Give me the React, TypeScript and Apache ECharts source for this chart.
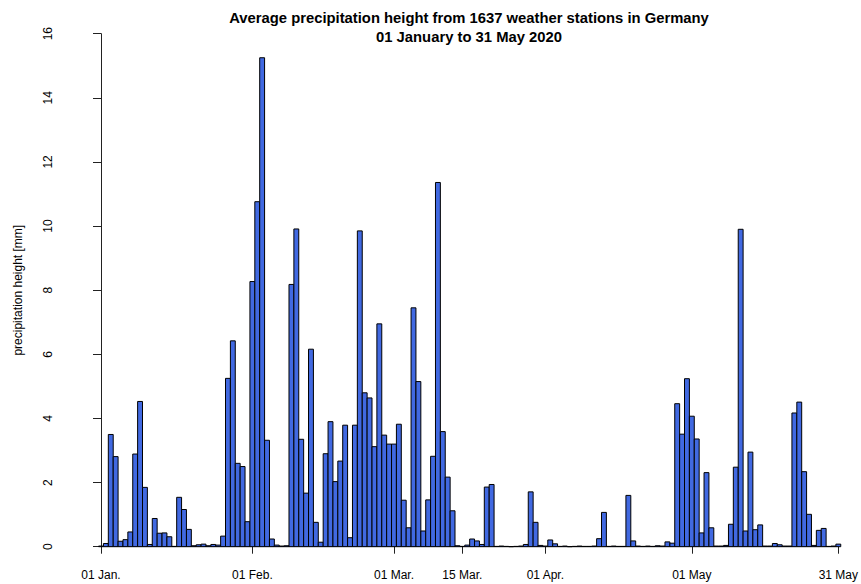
import React, { useEffect, useRef } from "react";
import * as echarts from "echarts";

// Daily average precipitation height [mm], 2020 (leap year)
const JAN = [0.02, 0.1, 3.5, 2.81, 0.17, 0.22, 0.46, 2.89, 4.53, 1.85, 0.07, 0.88, 0.42, 0.43, 0.31, 0.01, 1.54, 1.16, 0.54, 0.03, 0.06, 0.08, 0.03, 0.07, 0.05, 0.33, 5.25, 6.42, 2.6, 2.5, 0.78];
const FEB = [8.27, 10.76, 15.25, 3.32, 0.24, 0.05, 0.02, 0.03, 8.18, 9.91, 3.35, 1.67, 6.16, 0.76, 0.14, 2.9, 3.9, 2.03, 2.67, 3.79, 0.28, 3.79, 9.85, 4.8, 4.64, 3.12, 6.95, 3.48, 3.2];
const MAR = [3.2, 3.82, 1.45, 0.59, 7.45, 5.15, 0.49, 1.46, 2.82, 11.36, 3.59, 2.17, 1.12, 0.03, 0.01, 0.05, 0.24, 0.18, 0.07, 1.86, 1.94, 0.01, 0.02, 0.01, 0, 0.01, 0.02, 0.07, 1.71, 0.76, 0.04];
const APR = [0.02, 0.21, 0.09, 0.01, 0.02, 0, 0.01, 0.02, 0.01, 0.01, 0.02, 0.25, 1.07, 0.01, 0.02, 0.01, 0.01, 1.6, 0.18, 0.02, 0.01, 0.02, 0.01, 0.03, 0.02, 0.15, 0.11, 4.46, 3.51, 5.24];
const MAY = [4.07, 3.36, 0.43, 2.31, 0.59, 0.02, 0.02, 0.04, 0.7, 2.48, 9.9, 0.49, 2.95, 0.53, 0.68, 0.02, 0.02, 0.1, 0.06, 0.02, 0.02, 4.17, 4.51, 2.34, 1.01, 0.04, 0.51, 0.57, 0.01, 0.02, 0.08];

const TICK_DAYS = [0, 31, 60, 74, 91, 121, 151];
const TICK_LABELS = ["01 Jan.", "01 Feb.", "01 Mar.", "15 Mar.", "01 Apr.", "01 May", "31 May"];
const Y_MAX = 16;
const Y_STEP = 2;

const TITLE = "Average precipitation height from 1637 weather stations in Germany\n01 January to 31 May 2020";
const Y_NAME = "precipitation height [mm]";

const FONT = "'Liberation Sans', Arial, Helvetica, sans-serif";

export default function App() {
  const ref = useRef<HTMLDivElement>(null);

  useEffect(() => {
    if (!ref.current) return;
    const chart = echarts.init(ref.current, null, { renderer: "svg" });
    const values = [...JAN, ...FEB, ...MAR, ...APR, ...MAY];
    const data = values.map((v, i) => [i, v]);
    const labelMap: Record<number, string> = {};
    TICK_DAYS.forEach((d, i) => (labelMap[d] = TICK_LABELS[i]));

    chart.setOption({
      animation: false,
      backgroundColor: "#ffffff",
      title: {
        text: TITLE,
        left: 464,
        top: 3,
        textAlign: "center",
        textStyle: {
          fontFamily: FONT,
          fontSize: 14.8,
          fontWeight: "bold",
          color: "#000",
          lineHeight: 19,
        },
      },
      grid: { left: 101, right: 21, top: 33.7, bottom: 37.3 },
      xAxis: {
        type: "value",
        min: 0,
        max: values.length - 1,
        offset: 5.6,
        axisLine: { show: true, lineStyle: { color: "#222", width: 1 } },
        axisTick: {
          show: true,
          customValues: TICK_DAYS,
          length: 7,
          lineStyle: { color: "#222", width: 1 },
        },
        axisLabel: {
          customValues: TICK_DAYS,
          formatter: (v: number) => labelMap[v] ?? "",
          fontFamily: FONT,
          fontSize: 12,
          color: "#000",
          margin: 17,
        },
        splitLine: { show: false },
      },
      yAxis: {
        type: "value",
        min: 0,
        max: Y_MAX,
        interval: Y_STEP,
        offset: 31.7,
        name: Y_NAME,
        nameLocation: "middle",
        nameGap: 45,
        nameRotate: 90,
        nameTextStyle: { fontFamily: FONT, fontSize: 12, color: "#000" },
        axisLine: { show: true, lineStyle: { color: "#222", width: 1 } },
        axisTick: { show: true, length: 8, lineStyle: { color: "#222", width: 1 } },
        axisLabel: {
          rotate: 90,
          fontFamily: FONT,
          fontSize: 12,
          color: "#000",
          margin: 15,
        },
        splitLine: { show: false },
      },
      series: [
        {
          type: "custom",
          data,
          encode: { x: 0, y: 1 },
          clip: false,
          renderItem: (params: any, api: any) => {
            const d = api.value(0);
            const v = api.value(1);
            const p0 = api.coord([d - 0.5, v]);
            const p1 = api.coord([d + 0.5, 0]);
            return {
              type: "rect",
              shape: {
                x: p0[0],
                y: p0[1],
                width: p1[0] - p0[0],
                height: p1[1] - p0[1],
              },
              style: { fill: "#4169E1", stroke: "#000", lineWidth: 1 },
            };
          },
        },
      ],
    });

    return () => chart.dispose();
  }, []);

  return (
    <div
      ref={ref}
      style={{ position: "fixed", left: 0, top: 0, width: 861, height: 584, background: "#fff" }}
    />
  );
}
